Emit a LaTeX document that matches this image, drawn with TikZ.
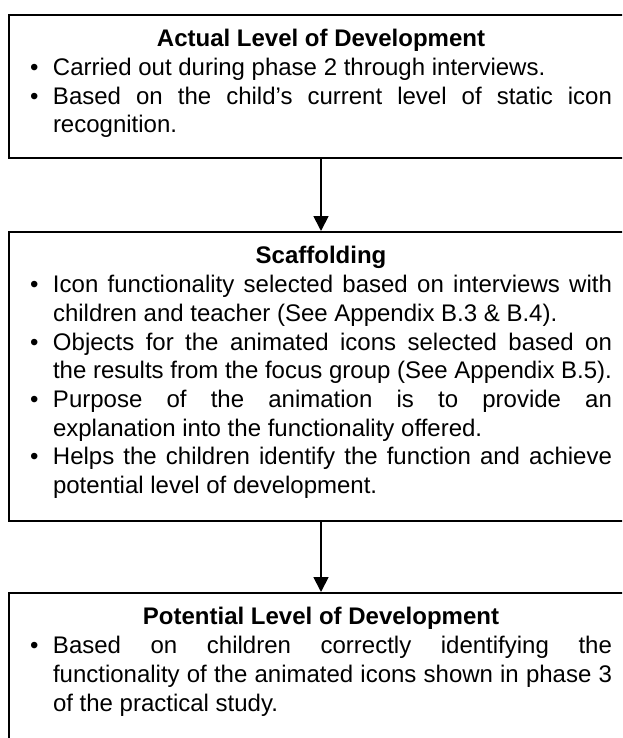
\documentclass[tikz,border=0pt]{standalone}
\usepackage{fontspec}
\setmainfont{Liberation Sans}
\usetikzlibrary{arrows.meta}

\tikzset{
  levelbox/.style={draw, line width=1.8pt, anchor=north, inner xsep=21pt, inner ysep=0pt,
    font=\fontsize{24pt}{28.7pt}\selectfont},
  flow/.style={line width=1.8pt, -{Triangle[width=15pt,length=15pt]}}
}
\newcommand{\boxhead}[1]{\noindent\rule{0pt}{32pt}\makebox[\linewidth]{\textbf{#1}}\par}
\newcommand{\bpoint}[1]{\hangindent=23pt\hangafter=1\noindent\makebox[23pt][l]{•}#1\par}

\begin{document}
\begin{tikzpicture}[x=1pt,y=-1pt]
\useasboundingbox (0,0) rectangle (622,738);
\clip (0,0) rectangle (622,738);

% Actual level
\node[levelbox] (actual) at (321,14) {\parbox[c][143pt][t]{582pt}{\hyphenpenalty=10000
  \boxhead{Actual Level of Development}
  \bpoint{Carried out during phase 2 through interviews.}
  \bpoint{Based on the child’s current level of static icon\linebreak recognition.}}};

% Scaffolding
\node[levelbox] (scaffold) at (321,231) {\parbox[c][289pt][t]{582pt}{\hyphenpenalty=10000
  \boxhead{Scaffolding}
  \bpoint{Icon functionality selected based on interviews with\linebreak children and teacher (See Appendix B.3 \& B.4).}
  \bpoint{Objects for the animated icons selected based on\linebreak the results from the focus group (See Appendix B.5).}
  \bpoint{Purpose of the animation is to provide an\linebreak explanation into the functionality offered.}
  \bpoint{Helps the children identify the function and achieve\linebreak potential level of development.}}};

% Potential level
\node[levelbox] (potential) at (321,592) {\parbox[c][170pt][t]{582pt}{\hyphenpenalty=10000
  \boxhead{Potential Level of Development}
  \bpoint{Based on children correctly identifying the\linebreak functionality of the animated icons shown in phase 3\linebreak of the practical study.}}};

% Arrows
\draw[flow] (actual) -- (scaffold);
\draw[flow] (scaffold) -- (potential);

\end{tikzpicture}
\end{document}
